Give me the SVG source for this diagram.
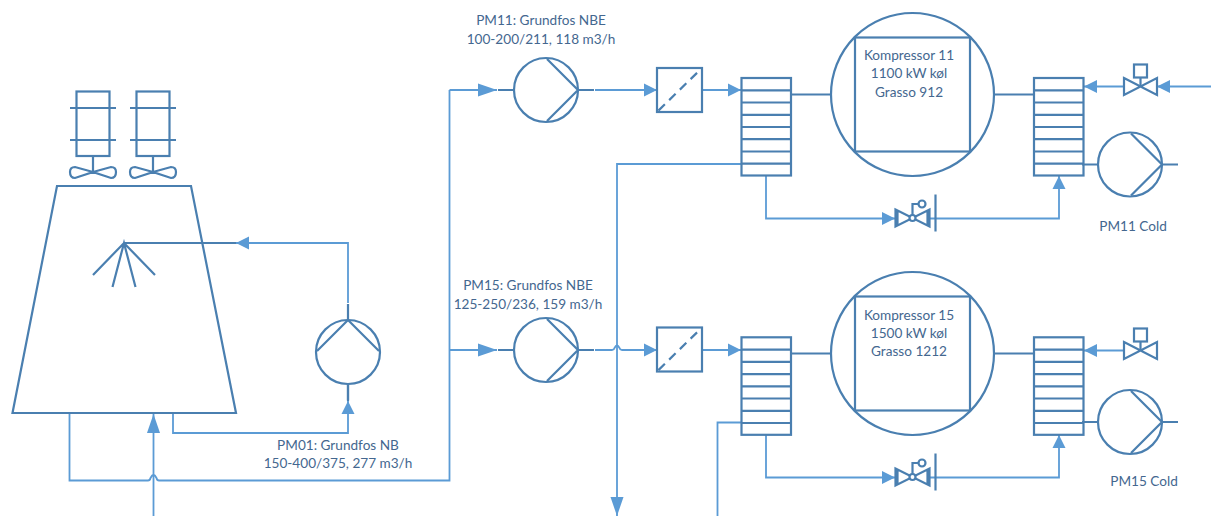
<svg xmlns="http://www.w3.org/2000/svg" xmlns:xlink="http://www.w3.org/1999/xlink" width="1216" height="516" viewBox="0 0 1216 516">
<style>
.d{fill:none;stroke:#4a7fb0;stroke-width:2.200}
.c{fill:none;stroke:#5b9bd5;stroke-width:1.800}
.s{marker-end:url(#a)}
.l{marker-end:url(#b)}
text{font-family:Lato,Carlito,"Liberation Sans",sans-serif;font-size:13.600px;fill:#44678f;text-anchor:middle}
</style>
<defs>
<marker id="a" markerUnits="userSpaceOnUse" markerWidth="14" markerHeight="14" refX="13" refY="7" orient="auto"><path d="M0 .5L13 7L0 13.500Z" fill="#5b9bd5"/></marker>
<marker id="b" markerUnits="userSpaceOnUse" markerWidth="20" markerHeight="14" refX="19" refY="7" orient="auto"><path d="M0 .5L19 7L0 13.500Z" fill="#5b9bd5"/></marker>
<g id="pump"><circle cx="0" cy="0" r="32" class="d"/><path d="M1 -31L32 0L1 31M-48 0H-32M32 0H48" class="d"/></g>
<g id="hx" class="d"><rect x="0" y="0" width="49.500" height="97.500"/><path d="M0 12.300H49.500M0 24.500H49.500M0 36.800H49.500M0 49H49.500M0 61.200H49.500M0 73.500H49.500M0 85.700H49.500"/></g>
<g id="comp" class="d"><circle cx="0" cy="0" r="81.500"/><rect x="-57.500" y="-57" width="115" height="114"/><path d="M-121 0H-81.500M81.500 0H121"/></g>
<g id="filter" class="d"><rect x="0" y="0" width="45" height="44"/><path d="M0 44L45 0" stroke-dasharray="9 6" stroke-dashoffset="-2"/></g>
<g id="valve" class="d"><path d="M-16.500 -8.500L16.500 8.500V-8.500L-16.500 8.500Z"/><path d="M0 0V-9"/><rect x="-6.500" y="-22" width="13" height="13"/></g>
<g id="cvalve" class="d"><path d="M-17 -8.500L17 8.500V-8.500L-17 8.500Z M-15 -8V8M15 -8V8"/><circle cx="0" cy="0" r="3" fill="#fff"/><path d="M0 -3V-14H6"/><circle cx="9.500" cy="-14" r="3.500"/><path d="M23 -23.500V13.500"/></g>
<g id="fan" class="d"><rect x="-16.500" y="-80.500" width="33" height="64.500"/><path d="M-23 -64H23M-23 -32H23M0 -16V0"/><path d="M0 0L-18 -5Q-23 -5 -23 0Q-23 6 -18 6ZM0 0L18 -5Q23 -5 23 0Q23 6 18 6Z"/></g>
</defs>
<g id="connectors">
<path class="c" d="M69.500 413V480.500H148Q150 480.500 150.500 478Q153.500 472 156.500 478Q157 480.500 159 480.500H449.500V90"/>
<path class="c l" d="M449.500 90H497"/>
<path class="c l" d="M449.500 350H497"/>
<path class="c l" d="M153.500 516V414"/>
<path class="c s" d="M173 413V433H348V401"/>
<path class="d" d="M348 385V401"/>
<path class="c s" d="M348 303V243H236"/>
<path class="d" d="M124 243H236"/>
<path class="c s" d="M595 90H657"/>
<path class="c s" d="M702 90H741"/>
<path class="c l" d="M741 164H617V516"/>
<path class="c s" d="M595 350H612Q614 350 614.500 348Q617 343 619.500 348Q620 350 622 350H657"/>
<path class="c s" d="M702 350H741"/>
<path class="c" d="M741 422.500H717.500V516"/>
<path class="c s" d="M766 176V218.500H895"/>
<path class="c s" d="M930 218.500H1059V176"/>
<path class="c s" d="M766 435V477.500H895"/>
<path class="c s" d="M930 477.500H1059V435"/>
<path class="c s" d="M1124 86.500H1084"/>
<path class="c s" d="M1211 86.500H1157"/>
<path class="c s" d="M1124 350.500H1084"/>
</g>
<g id="tower" class="d"><path d="M57 186H191L236 413H12.500Z"/><path d="M93 275L124 243L155 275M112.500 287L124 243L135.500 287"/></g>
<g id="fan1"><use xlink:href="#fan" x="93" y="172"/></g>
<g id="fan2"><use xlink:href="#fan" x="153" y="172"/></g>
<g id="pm01"><g transform="translate(348 352) rotate(-90)"><use xlink:href="#pump"/></g><text x="338" y="450">PM01: Grundfos NB</text><text x="338" y="468">150-400/375, 277 m3/h</text></g>
<g id="pm11"><use xlink:href="#pump" x="546" y="90"/><text x="541" y="25">PM11: Grundfos NBE</text><text x="541" y="44">100-200/211, 118 m3/h</text></g>
<g id="pm15"><use xlink:href="#pump" x="546" y="350"/><text x="528" y="290">PM15: Grundfos NBE</text><text x="528" y="309">125-250/236, 159 m3/h</text></g>
<g id="filter11"><use xlink:href="#filter" x="657" y="68"/></g>
<g id="filter15"><use xlink:href="#filter" x="657" y="327.500"/></g>
<g id="hx11a"><use xlink:href="#hx" x="741.500" y="78"/></g>
<g id="hx15a"><use xlink:href="#hx" x="741.500" y="337.300"/></g>
<g id="hx11b"><use xlink:href="#hx" x="1034" y="78"/></g>
<g id="hx15b"><use xlink:href="#hx" x="1034" y="337.300"/></g>
<g id="k11"><use xlink:href="#comp" x="912.500" y="94.500"/><text x="909" y="60">Kompressor 11</text><text x="909" y="78">1100 kW køl</text><text x="909" y="97">Grasso 912</text></g>
<g id="k15"><use xlink:href="#comp" x="912.500" y="353.500"/><text x="909" y="320">Kompressor 15</text><text x="909" y="338">1500 kW køl</text><text x="909" y="356">Grasso 1212</text></g>
<g id="v11"><use xlink:href="#valve" x="1140.500" y="86.500"/></g>
<g id="v15"><use xlink:href="#valve" x="1140.500" y="350.500"/></g>
<g id="cv11"><use xlink:href="#cvalve" x="912.500" y="218"/></g>
<g id="cv15"><use xlink:href="#cvalve" x="912.500" y="477"/></g>
<g id="pm11c"><use xlink:href="#pump" x="1130" y="164.500"/><text x="1133" y="231">PM11 Cold</text></g>
<g id="pm15c"><use xlink:href="#pump" x="1130" y="422"/><text x="1144" y="486">PM15 Cold</text></g>
</svg>
